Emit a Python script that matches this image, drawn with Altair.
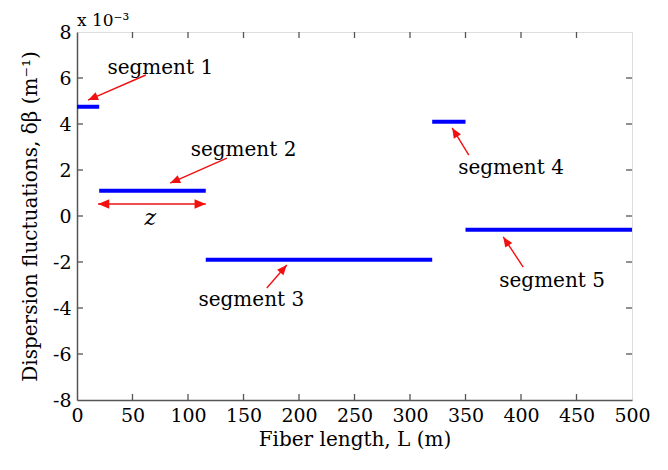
import math
import altair as alt
import pandas as pd

# ---- data (y in units of 1e-3 m^-1) ----
seg_start = [0, 20, 116, 320, 350]
seg_end = [20, 116, 320, 350, 500]
seg_value = [4.75, 1.1, -1.9, 4.1, -0.6]

x_ticks = [0, 50, 100, 150, 200, 250, 300, 350, 400, 450, 500]
y_ticks = [-8, -6, -4, -2, 0, 2, 4, 6, 8]

ann_text = ["segment 1", "segment 2", "segment 3", "segment 4", "segment 5"]
ann_text_x = [75, 150, 157, 391, 428]
ann_text_y = [6.43, 2.87, -3.65, 2.09, -2.83]
arrow_tail_x = [62, 135, 171, 353, 402]
arrow_tail_y = [6.13, 2.52, -3.13, 2.65, -2.22]
arrow_head_x = [10, 84, 189, 338, 384]
arrow_head_y = [5.04, 1.43, -2.13, 3.83, -0.91]

z_start, z_end, z_level = 19, 116, 0.52
z_label_x, z_label_y = 66, -0.1

W, H = 555, 368
XMAX, YMIN, YMAX = 500, -8, 8
FONT = "DejaVu Serif"
RED = "#f01010"
BLUE = "#0000ff"
AXC = "#555555"

def px_angle(tx, ty, hx, hy):
    dx = (hx - tx) * W / XMAX
    dy = -(hy - ty) * H / (YMAX - YMIN)
    return math.degrees(math.atan2(dx, -dy)) % 360

xs = alt.Scale(domain=[0, XMAX], nice=False, zero=False)
ys = alt.Scale(domain=[YMIN, YMAX], nice=False, zero=False)

seg_df = pd.DataFrame({"x": seg_start, "x2": seg_end, "y": seg_value})
base_axis_x = alt.Axis(values=x_ticks, title="Fiber length, L (m)", ticks=False, grid=False,
                       domainColor=AXC, domainWidth=1.5, labelFont=FONT, labelFontSize=19,
                       labelColor="black", labelPadding=6, titleFont=FONT, titleFontSize=20,
                       titleFontWeight="normal", titleColor="black", titlePadding=4,
                       labelFlush=False)
base_axis_y = alt.Axis(values=y_ticks, title="Dispersion fluctuations, δβ (m⁻¹)", ticks=False,
                       grid=False, domainColor=AXC, domainWidth=1.5, labelFont=FONT,
                       labelFontSize=19, labelColor="black", labelPadding=6,
                       labelExpr="datum.value < 0 ? '-' + abs(datum.value) : '' + datum.value",
                       titleFont=FONT, titleFontSize=20, titleFontWeight="normal",
                       titleColor="black", titlePadding=12, labelFlush=False)

segs = alt.Chart(seg_df).mark_rule(color=BLUE, strokeWidth=4).encode(
    x=alt.X("x:Q", scale=xs, axis=base_axis_x),
    x2="x2:Q",
    y=alt.Y("y:Q", scale=ys, axis=base_axis_y),
)

# inward ticks
xt_df = pd.DataFrame({"x": x_ticks[1:-1]})
xt_bottom = alt.Chart(xt_df).mark_rule(color=AXC, strokeWidth=1.3).encode(
    x=alt.X("x:Q", scale=xs), y=alt.value(H), y2=alt.value(H - 6))
xt_top = alt.Chart(xt_df).mark_rule(color=AXC, strokeWidth=1.3).encode(
    x=alt.X("x:Q", scale=xs), y=alt.value(0), y2=alt.value(6))
yt_df = pd.DataFrame({"y": y_ticks[1:-1]})
yt_left = alt.Chart(yt_df).mark_rule(color=AXC, strokeWidth=1.3).encode(
    y=alt.Y("y:Q", scale=ys), x=alt.value(0), x2=alt.value(6))
yt_right = alt.Chart(yt_df).mark_rule(color=AXC, strokeWidth=1.3).encode(
    y=alt.Y("y:Q", scale=ys), x=alt.value(W), x2=alt.value(W - 6))

# annotation arrows
arr_df = pd.DataFrame({
    "tx": arrow_tail_x, "ty": arrow_tail_y, "hx": arrow_head_x, "hy": arrow_head_y,
    "ang": [px_angle(a, b, c, d) for a, b, c, d in
            zip(arrow_tail_x, arrow_tail_y, arrow_head_x, arrow_head_y)],
})
arr_lines = alt.Chart(arr_df).mark_rule(color=RED, strokeWidth=1.4).encode(
    x=alt.X("tx:Q", scale=xs), y=alt.Y("ty:Q", scale=ys), x2="hx:Q", y2="hy:Q")
HEAD = "M0,0 L0.42,1 L-0.42,1 Z"
arr_heads = alt.Chart(arr_df).mark_point(shape=HEAD, filled=True, color=RED, opacity=1,
                                         size=400, strokeWidth=0).encode(
    x=alt.X("hx:Q", scale=xs), y=alt.Y("hy:Q", scale=ys), angle=alt.Angle("ang:Q", scale=None))

txt_df = pd.DataFrame({"x": ann_text_x, "y": ann_text_y, "t": ann_text})
texts = alt.Chart(txt_df).mark_text(font=FONT, fontSize=20, color="black",
                                    baseline="middle", align="center").encode(
    x=alt.X("x:Q", scale=xs), y=alt.Y("y:Q", scale=ys), text="t:N")

# z double arrow
z_df = pd.DataFrame({"x": [z_start], "x2": [z_end], "y": [z_level]})
z_line = alt.Chart(z_df).mark_rule(color=RED, strokeWidth=1.4).encode(
    x=alt.X("x:Q", scale=xs), x2="x2:Q", y=alt.Y("y:Q", scale=ys))
zh_df = pd.DataFrame({"x": [z_start, z_end], "y": [z_level, z_level], "ang": [270, 90]})
z_heads = alt.Chart(zh_df).mark_point(shape=HEAD, filled=True, color=RED, opacity=1,
                                      size=500, strokeWidth=0).encode(
    x=alt.X("x:Q", scale=xs), y=alt.Y("y:Q", scale=ys), angle=alt.Angle("ang:Q", scale=None))
zl_df = pd.DataFrame({"x": [z_label_x], "y": [z_label_y], "t": ["z"]})
z_text = alt.Chart(zl_df).mark_text(font=FONT, fontSize=22, fontStyle="italic", color="black",
                                    baseline="middle", align="center").encode(
    x=alt.X("x:Q", scale=xs), y=alt.Y("y:Q", scale=ys), text="t:N")

exp_text = alt.Chart(pd.DataFrame({"t": ["x 10⁻³"]})).mark_text(
    font=FONT, fontSize=17, color="black", align="left", baseline="middle").encode(
    x=alt.value(0), y=alt.value(-11), text="t:N")

chart = alt.layer(
    segs, xt_bottom, xt_top, yt_left, yt_right, arr_lines, arr_heads, texts,
    z_line, z_heads, z_text, exp_text,
).properties(
    width=W, height=H,
    padding={"left": 69, "top": 24, "right": 20, "bottom": 62},
    autosize=alt.AutoSizeParams(type="none"),
).configure_view(stroke=AXC, strokeWidth=1.5).configure(background="white")

chart.save("out.html", embed_options={"renderer": "svg", "actions": False})
